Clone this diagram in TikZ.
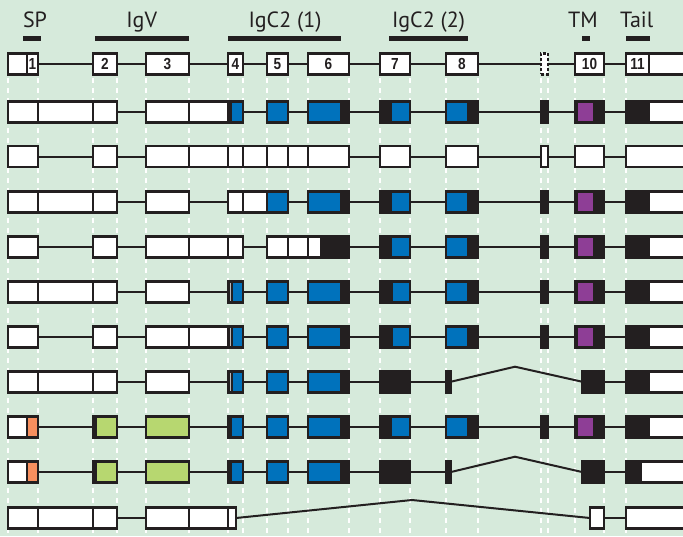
\documentclass[tikz,border=0pt]{standalone}
\usepackage{fontspec}
\newfontfamily\hdrfont{PT Sans}
\newfontfamily\numfont{Liberation Sans}[FakeStretch=0.85]
\definecolor{bg}{RGB}{214,234,219}
\definecolor{ink}{RGB}{35,31,32}
\definecolor{exblue}{RGB}{0,114,188}
\definecolor{expurple}{RGB}{142,62,150}
\definecolor{exgreen}{RGB}{183,215,112}
\definecolor{exorange}{RGB}{247,143,94}
\tikzset{
 exon/.style={draw=ink, line width=2.7pt, rectangle, inner sep=0pt, outer sep=0pt, minimum height=21pt, font=\numfont\bfseries\fontsize{16}{16}\selectfont, text=ink},
 intron/.style={draw=ink, line width=2pt},
 guide/.style={draw=white, line width=1.5pt, dash pattern=on 5pt off 5pt},
 domtext/.style={font=\hdrfont\fontsize{22}{22}\selectfont, text=ink, anchor=base, inner sep=0pt},
}
\newcommand\exseg[6][white]{\node[exon, fill=#1, minimum width={#4-#3}, anchor=west] (#2) at (#3,#5) {#6};}
\newcommand\exover[4]{\fill[#1] (#2,#4-11.8) rectangle (#3,#4+11.8);}
\newcommand\exinset[4]{\fill[#1] (#2,#4-9.1) rectangle (#3,#4+9.1);}
\newcommand\intr[2]{\draw[intron] (#1.east) -- (#2.west);}
\newcommand\sliver[1]{\draw[gray!55, line width=0.7pt] (230.8,#1-9) -- (230.8,#1+9);}
\begin{document}
\begin{tikzpicture}[x=1pt,y=-1pt]
\useasboundingbox (0,0) rectangle (683,536);
\fill[bg] (0,0) rectangle (683,536);
% guide lines
\foreach \gx in {8,38,93,117,146,189,228,243,267,288,308,349,380,410,446,478,541,548,575,604,626}
  \draw[guide] (\gx,78) -- (\gx,540);
% domain headers
\node[domtext] (tSP) at (35,27) {SP};
\node[domtext] (tIgV) at (141.7,27) {IgV};
\node[domtext] (tC1) at (285,27) {IgC2 (1)};
\node[domtext] (tC2) at (428.5,27) {IgC2 (2)};
\node[domtext] (tTM) at (583,27) {TM};
\node[domtext] (tTail) at (636.7,27) {Tail};
\fill[ink] (23,36.2) rectangle (41,41.2);
\fill[ink] (95,36.2) rectangle (189,41.2);
\fill[ink] (228,36.2) rectangle (341,41.2);
\fill[ink] (389,36.2) rectangle (468,41.2);
\fill[ink] (582,36.2) rectangle (590,41.2);
\fill[ink] (626,36.2) rectangle (650,41.2);
% row 0
\exseg{r0a}{8}{27}{63.7}{}
\exseg{r0b}{27}{38}{63.7}{1}
\exseg{r0c}{93}{117}{63.7}{2}
\exseg{r0d}{146}{189}{63.7}{3}
\exseg{r0e}{228}{243}{63.7}{4}
\exseg{r0f}{267}{288}{63.7}{5}
\exseg{r0g}{308}{349}{63.7}{6}
\exseg{r0h}{380}{410}{63.7}{7}
\exseg{r0i}{446}{478}{63.7}{8}
\node[exon, fill=white, dash pattern=on 3pt off 2pt, minimum width=7, anchor=west] (r0j) at (541,63.7) {};
\exseg{r0k}{575}{604}{63.7}{10}
\exseg{r0l}{626}{649}{63.7}{11}
\exseg{r0m}{649}{700}{63.7}{}
\intr{r0b}{r0c}\intr{r0c}{r0d}\intr{r0d}{r0e}\intr{r0e}{r0f}\intr{r0f}{r0g}
\intr{r0g}{r0h}\intr{r0h}{r0i}\intr{r0i}{r0j}\intr{r0j}{r0k}\intr{r0k}{r0l}
% row 1
\exseg{r1a}{8}{38}{111.7}{}
\exseg{r1b}{38}{93}{111.7}{}
\exseg{r1c}{93}{117}{111.7}{}
\exseg{r1d}{146}{189}{111.7}{}
\exseg{r1e}{189}{228}{111.7}{}
\exseg[exblue]{r1f}{228}{243}{111.7}{}\exover{ink}{228}{232}{111.7}
\exseg[exblue]{r1g}{267}{288}{111.7}{}
\exseg[exblue]{r1h}{308}{349}{111.7}{}\exover{ink}{340}{349}{111.7}
\exseg[exblue]{r1i}{380}{410}{111.7}{}\exover{ink}{380}{392}{111.7}
\exseg[exblue]{r1j}{446}{478}{111.7}{}\exover{ink}{467}{478}{111.7}
\exseg[ink]{r1k}{541}{548}{111.7}{}
\exseg[ink]{r1l}{575}{604}{111.7}{}\exinset{expurple}{578}{593}{111.7}
\exseg{r1m}{626}{700}{111.7}{}\exover{ink}{626}{650}{111.7}
\intr{r1c}{r1d}\intr{r1f}{r1g}\intr{r1g}{r1h}\intr{r1h}{r1i}\intr{r1i}{r1j}
\intr{r1j}{r1k}\intr{r1k}{r1l}\intr{r1l}{r1m}
% row 2
\exseg{r2a}{8}{38}{156.5}{}
\exseg{r2b}{93}{117}{156.5}{}
\exseg{r2c}{146}{189}{156.5}{}
\exseg{r2d}{189}{228}{156.5}{}
\exseg{r2e}{228}{243}{156.5}{}
\exseg{r2f}{243}{267}{156.5}{}
\exseg{r2g}{267}{288}{156.5}{}
\exseg{r2h}{288}{308}{156.5}{}
\exseg{r2i}{308}{349}{156.5}{}
\exseg{r2j}{380}{410}{156.5}{}
\exseg{r2k}{446}{478}{156.5}{}
\exseg{r2l}{541}{548}{156.5}{}
\exseg{r2m}{575}{604}{156.5}{}
\exseg{r2n}{626}{700}{156.5}{}
\intr{r2a}{r2b}\intr{r2b}{r2c}\intr{r2i}{r2j}\intr{r2j}{r2k}\intr{r2k}{r2l}
\intr{r2l}{r2m}\intr{r2m}{r2n}
% row 3
\exseg{r3a}{8}{38}{202}{}
\exseg{r3b}{38}{93}{202}{}
\exseg{r3c}{93}{117}{202}{}
\exseg{r3d}{146}{189}{202}{}
\exseg{r3e}{228}{243}{202}{}
\exseg{r3f}{243}{267}{202}{}
\exseg[exblue]{r3g}{267}{288}{202}{}
\exseg[exblue]{r3h}{308}{349}{202}{}\exover{ink}{340}{349}{202}
\exseg[exblue]{r3i}{380}{410}{202}{}\exover{ink}{380}{392}{202}
\exseg[exblue]{r3j}{446}{478}{202}{}\exover{ink}{467}{478}{202}
\exseg[ink]{r3k}{541}{548}{202}{}
\exseg[ink]{r3l}{575}{604}{202}{}\exinset{expurple}{578}{593}{202}
\exseg{r3m}{626}{700}{202}{}\exover{ink}{626}{650}{202}
\intr{r3c}{r3d}\intr{r3d}{r3e}\intr{r3g}{r3h}\intr{r3h}{r3i}\intr{r3i}{r3j}
\intr{r3j}{r3k}\intr{r3k}{r3l}\intr{r3l}{r3m}
% row 4
\exseg{r4a}{8}{38}{246.8}{}
\exseg{r4b}{93}{117}{246.8}{}
\exseg{r4c}{146}{189}{246.8}{}
\exseg{r4d}{189}{228}{246.8}{}
\exseg{r4e}{228}{243}{246.8}{}
\exseg{r4f}{267}{288}{246.8}{}
\exseg{r4g}{288}{308}{246.8}{}
\exseg{r4h}{308}{349}{246.8}{}\exover{ink}{320}{349}{246.8}
\exseg[exblue]{r4i}{380}{410}{246.8}{}\exover{ink}{380}{392}{246.8}
\exseg[exblue]{r4j}{446}{478}{246.8}{}\exover{ink}{467}{478}{246.8}
\exseg[ink]{r4k}{541}{548}{246.8}{}
\exseg[ink]{r4l}{575}{604}{246.8}{}\exinset{expurple}{578}{593}{246.8}
\exseg{r4m}{626}{700}{246.8}{}\exover{ink}{626}{650}{246.8}
\intr{r4a}{r4b}\intr{r4b}{r4c}\intr{r4e}{r4f}\intr{r4h}{r4i}\intr{r4i}{r4j}
\intr{r4j}{r4k}\intr{r4k}{r4l}\intr{r4l}{r4m}
% row 5
\exseg{r5a}{8}{38}{291.7}{}
\exseg{r5b}{38}{93}{291.7}{}
\exseg{r5c}{93}{117}{291.7}{}
\exseg{r5d}{146}{189}{291.7}{}
\exseg[exblue]{r5e}{228}{243}{291.7}{}\exover{ink}{228}{233}{291.7}\sliver{291.7}
\exseg[exblue]{r5f}{267}{288}{291.7}{}
\exseg[exblue]{r5g}{308}{349}{291.7}{}\exover{ink}{340}{349}{291.7}
\exseg[exblue]{r5h}{380}{410}{291.7}{}\exover{ink}{380}{393}{291.7}
\exseg[exblue]{r5i}{446}{478}{291.7}{}\exover{ink}{467}{478}{291.7}
\exseg[ink]{r5j}{541}{548}{291.7}{}
\exseg[ink]{r5k}{575}{604}{291.7}{}\exinset{expurple}{578}{593}{291.7}
\exseg{r5l}{626}{700}{291.7}{}\exover{ink}{626}{650}{291.7}
\intr{r5c}{r5d}\intr{r5d}{r5e}\intr{r5e}{r5f}\intr{r5f}{r5g}\intr{r5g}{r5h}
\intr{r5h}{r5i}\intr{r5i}{r5j}\intr{r5j}{r5k}\intr{r5k}{r5l}
% row 6
\exseg{r6a}{8}{38}{337}{}
\exseg{r6b}{93}{117}{337}{}
\exseg{r6c}{146}{189}{337}{}
\exseg{r6d}{189}{228}{337}{}
\exseg[exblue]{r6e}{228}{243}{337}{}\exover{ink}{228}{233}{337}\sliver{337}
\exseg[exblue]{r6f}{267}{288}{337}{}
\exseg[exblue]{r6g}{308}{349}{337}{}\exover{ink}{340}{349}{337}
\exseg[exblue]{r6h}{380}{410}{337}{}\exover{ink}{380}{393}{337}
\exseg[exblue]{r6i}{446}{478}{337}{}\exover{ink}{467}{478}{337}
\exseg[ink]{r6j}{541}{548}{337}{}
\exseg[ink]{r6k}{575}{604}{337}{}\exinset{expurple}{578}{593}{337}
\exseg{r6l}{626}{700}{337}{}\exover{ink}{626}{650}{337}
\intr{r6a}{r6b}\intr{r6b}{r6c}\intr{r6e}{r6f}\intr{r6f}{r6g}\intr{r6g}{r6h}
\intr{r6h}{r6i}\intr{r6i}{r6j}\intr{r6j}{r6k}\intr{r6k}{r6l}
% row 7
\exseg{r7a}{8}{38}{381.7}{}
\exseg{r7b}{38}{93}{381.7}{}
\exseg{r7c}{93}{117}{381.7}{}
\exseg{r7d}{146}{189}{381.7}{}
\exseg[exblue]{r7e}{228}{243}{381.7}{}\exover{ink}{228}{233}{381.7}\sliver{381.7}
\exseg[exblue]{r7f}{267}{288}{381.7}{}
\exseg[exblue]{r7g}{308}{349}{381.7}{}\exover{ink}{340}{349}{381.7}
\exseg[ink]{r7h}{380}{410}{381.7}{}
\exseg[ink]{r7i}{446}{451}{381.7}{}
\coordinate (r7p) at (515,366.7);
\exseg[ink]{r7j}{582}{604}{381.7}{}
\exseg{r7k}{626}{700}{381.7}{}\exover{ink}{626}{650}{381.7}
\intr{r7c}{r7d}\intr{r7d}{r7e}\intr{r7e}{r7f}\intr{r7f}{r7g}\intr{r7g}{r7h}
\intr{r7h}{r7i}\draw[intron] (r7i.east) -- (r7p) -- (r7j.west);
\intr{r7j}{r7k}
% row 8
\exseg{r8a}{8}{27}{426.7}{}
\exseg[exorange]{r8b}{27}{38}{426.7}{}
\exseg[exgreen]{r8c}{93}{117}{426.7}{}\exover{ink}{93}{97}{426.7}
\exseg[exgreen]{r8d}{146}{189}{426.7}{}
\exseg[exblue]{r8e}{228}{243}{426.7}{}\exover{ink}{228}{232}{426.7}
\exseg[exblue]{r8f}{267}{288}{426.7}{}
\exseg[exblue]{r8g}{308}{349}{426.7}{}\exover{ink}{340}{349}{426.7}
\exseg[exblue]{r8h}{380}{410}{426.7}{}\exover{ink}{380}{392}{426.7}
\exseg[exblue]{r8i}{446}{478}{426.7}{}\exover{ink}{467}{478}{426.7}
\exseg[ink]{r8j}{541}{548}{426.7}{}
\exseg[ink]{r8k}{575}{604}{426.7}{}\exinset{expurple}{578}{593}{426.7}
\exseg{r8l}{626}{700}{426.7}{}\exover{ink}{626}{650}{426.7}
\intr{r8b}{r8c}\intr{r8c}{r8d}\intr{r8d}{r8e}\intr{r8e}{r8f}\intr{r8f}{r8g}
\intr{r8g}{r8h}\intr{r8h}{r8i}\intr{r8i}{r8j}\intr{r8j}{r8k}\intr{r8k}{r8l}
% row 9
\exseg{r9a}{8}{27}{472}{}
\exseg[exorange]{r9b}{27}{38}{472}{}
\exseg[exgreen]{r9c}{93}{117}{472}{}\exover{ink}{93}{97}{472}
\exseg[exgreen]{r9d}{146}{189}{472}{}
\exseg[exblue]{r9e}{228}{243}{472}{}\exover{ink}{228}{232}{472}
\exseg[exblue]{r9f}{267}{288}{472}{}
\exseg[exblue]{r9g}{308}{349}{472}{}\exover{ink}{340}{349}{472}
\exseg[ink]{r9h}{380}{410}{472}{}
\exseg[ink]{r9i}{446}{451}{472}{}
\coordinate (r9p) at (515,456.7);
\exseg[ink]{r9j}{582}{604}{472}{}
\exseg{r9k}{626}{700}{472}{}\exover{ink}{626}{642}{472}
\intr{r9b}{r9c}\intr{r9c}{r9d}\intr{r9d}{r9e}\intr{r9e}{r9f}\intr{r9f}{r9g}
\intr{r9g}{r9h}\intr{r9h}{r9i}\draw[intron] (r9i.east) -- (r9p) -- (r9j.west);
\intr{r9j}{r9k}
% row 10
\exseg{r10a}{8}{38}{518}{}
\exseg{r10b}{38}{93}{518}{}
\exseg{r10c}{93}{117}{518}{}
\exseg{r10d}{146}{189}{518}{}
\exseg{r10e}{189}{228}{518}{}
\exseg{r10f}{228}{236}{518}{}
\coordinate (r10p) at (412,500);
\exseg{r10g}{590}{604}{518}{}
\exseg{r10h}{626}{700}{518}{}
\intr{r10c}{r10d}\draw[intron] (r10f.east) -- (r10p) -- (r10g.west);
\intr{r10g}{r10h}
\end{tikzpicture}
\end{document}
